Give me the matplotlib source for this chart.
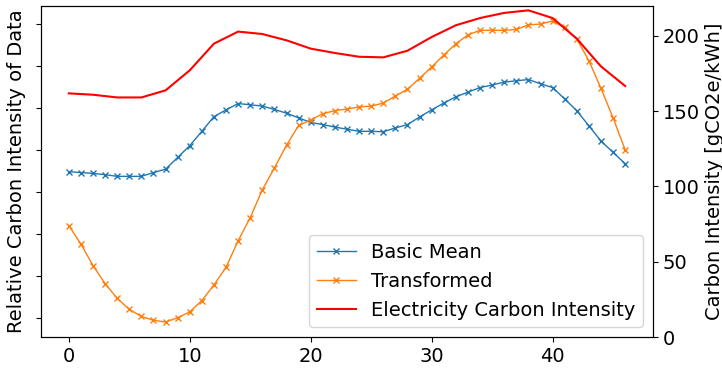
import matplotlib as mpl
mpl.use('Agg')
import matplotlib.pyplot as plt

# half-hour slots
slots = list(range(47))
basic_mean = [3.48, 3.46, 3.44, 3.41, 3.37, 3.37, 3.37, 3.46, 3.54, 3.82,
              4.10, 4.44, 4.79, 4.95, 5.10, 5.07, 5.04, 4.96, 4.87, 4.76,
              4.65, 4.60, 4.54, 4.49, 4.44, 4.44, 4.43, 4.52, 4.60, 4.78,
              4.95, 5.11, 5.26, 5.37, 5.48, 5.54, 5.61, 5.64, 5.67, 5.57,
              5.48, 5.21, 4.93, 4.57, 4.21, 3.94, 3.67]
transformed = [2.20, 1.76, 1.25, 0.82, 0.47, 0.21, 0.04, -0.05, -0.09, 0.01,
               0.15, 0.42, 0.79, 1.21, 1.84, 2.39, 3.05, 3.57, 4.11, 4.58,
               4.71, 4.86, 4.93, 4.97, 5.02, 5.04, 5.11, 5.28, 5.44, 5.70,
               5.97, 6.25, 6.52, 6.73, 6.84, 6.84, 6.84, 6.86, 6.97, 6.99,
               7.06, 6.91, 6.63, 6.12, 5.46, 4.76, 4.00]

# hourly grid carbon intensity
grid_slots = list(range(0, 47, 2))
grid_ci = [161.7, 160.8, 159.0, 159.0, 163.7, 177.0, 194.7, 202.7, 201.1, 196.9,
           191.4, 188.5, 186.0, 185.6, 190.0, 199.1, 206.9, 211.7, 215.1, 216.8,
           211.7, 198.0, 179.6, 166.6]

plt.rcParams['font.size'] = 14

fig = plt.figure(figsize=(7.22, 3.68), dpi=100)
ax = fig.add_axes([0.0568, 0.0842, 0.8476, 0.8995])
l1, = ax.plot(slots, basic_mean, marker='x', ms=4, lw=1, color='tab:blue', label='Basic Mean')
l2, = ax.plot(slots, transformed, marker='x', ms=4, lw=1, color='tab:orange', label='Transformed')
ax.set_yticklabels([])
ax.set_ylabel('Relative Carbon Intensity of Data')

ax2 = ax.twinx()
l3, = ax2.plot(grid_slots, grid_ci, color='red', lw=1.5, label='Electricity Carbon Intensity')
ax2.set_ylim(bottom=0)
ax2.set_ylabel('Carbon Intensity [gCO2e/kWh]')

ax2.legend(handles=[l1, l2, l3], loc='lower right')

plt.savefig('out.png', dpi=100)
